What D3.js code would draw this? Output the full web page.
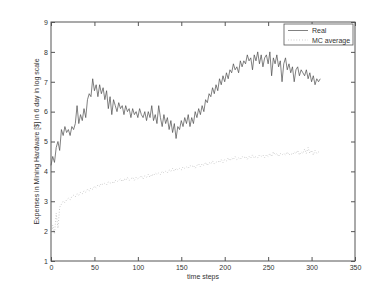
<!DOCTYPE html>
<html><head><meta charset="utf-8">
<script src="https://cdn.jsdelivr.net/npm/d3@7"></script>
<style>body{margin:0;background:#fff}svg{display:block;font-family:"Liberation Sans",Arial,sans-serif}</style>
</head><body><svg id="c" width="392" height="294"></svg>
<script>
const timeSteps = d3.range(0, 311, 2);
const realValues = [4.2,4.5,4.3,4.8,5.0,4.7,5.4,5.2,5.5,5.3,5.4,5.2,5.5,5.4,5.6,6.2,5.6,5.9,5.7,6.1,5.8,6.4,6.6,6.5,7.1,6.7,6.9,6.5,6.9,6.6,6.8,6.4,6.7,6.1,6.5,5.9,6.4,6.2,6.0,6.3,6.1,6.2,5.9,6.2,6.0,6.1,5.8,6.1,5.9,6.0,5.8,6.1,5.9,5.8,6.0,5.7,6.0,5.8,6.2,5.7,5.9,5.6,6.2,5.8,5.5,5.9,5.6,5.8,5.4,5.7,5.3,5.6,5.1,5.5,5.4,5.7,5.5,5.8,5.6,5.9,5.5,5.8,5.6,6.0,5.8,6.1,5.9,6.2,6.0,6.4,6.3,6.6,6.5,6.8,6.6,6.9,6.7,7.1,6.9,7.2,7.0,7.3,7.1,7.4,7.3,7.6,7.4,7.5,7.3,7.7,7.5,7.7,7.6,7.9,7.7,7.8,7.4,7.9,7.7,8.0,7.6,7.9,7.5,7.8,7.9,7.6,8.0,7.2,7.8,7.6,7.9,7.5,7.7,7.0,7.6,7.8,7.4,7.6,7.3,7.5,7.0,7.4,7.5,7.2,7.4,7.3,7.2,7.4,7.1,7.3,7.0,7.2,6.9,7.1,7.0,7.1];
const mcValues = [1.8,2.2,1.9,2.6,2.1,2.8,2.9,3.0,2.95,3.05,3.1,3.05,3.15,3.2,3.15,3.25,3.2,3.3,3.25,3.35,3.3,3.4,3.35,3.45,3.4,3.5,3.45,3.55,3.5,3.6,3.55,3.6,3.55,3.65,3.6,3.65,3.6,3.7,3.65,3.7,3.75,3.65,3.75,3.7,3.8,3.7,3.75,3.8,3.7,3.8,3.75,3.8,3.85,3.75,3.85,3.8,3.9,3.8,3.9,3.85,3.95,3.9,3.95,3.9,4.0,3.95,4.0,3.95,4.05,4.0,4.1,4.0,4.1,4.05,4.1,4.05,4.15,4.1,4.15,4.1,4.2,4.15,4.2,4.1,4.2,4.25,4.15,4.25,4.2,4.3,4.2,4.3,4.25,4.35,4.25,4.3,4.35,4.3,4.4,4.3,4.4,4.35,4.45,4.35,4.45,4.4,4.5,4.4,4.45,4.4,4.5,4.45,4.5,4.4,4.5,4.45,4.55,4.45,4.5,4.45,4.55,4.5,4.55,4.45,4.55,4.5,4.6,4.5,4.65,4.55,4.6,4.5,4.6,4.55,4.6,4.55,4.65,4.55,4.6,4.55,4.65,4.6,4.7,4.55,4.65,4.6,4.75,4.6,4.8,4.6,4.7,4.55,4.7,4.6,4.65,4.6];
const xTicks = [0,50,100,150,200,250,300,350];
const yTicks = [1,2,3,4,5,6,7,8,9];
const seriesNames = ["Real","MC average"];

const svg = d3.select("#c");
const m = {l:51, t:22, r:37, b:33};
const W = 392 - m.l - m.r, H = 294 - m.t - m.b;
const x = d3.scaleLinear().domain([0,350]).range([m.l, m.l+W]);
const y = d3.scaleLinear().domain([1,9]).range([m.t+H, m.t]);
const axisCol = "#555", fs = 7;
const realCol = "#4a4a4a", mcCol = "#b0b0b0";

svg.append("rect").attr("x",m.l).attr("y",m.t).attr("width",W).attr("height",H)
  .attr("fill","#fff").attr("stroke",axisCol).attr("stroke-width",1);

function styleAxis(g){
  g.select(".domain").remove();
  g.selectAll("line").attr("stroke",axisCol);
  g.selectAll("text").attr("fill","#333").style("font-size",fs+"px");
}
svg.append("g").attr("transform",`translate(0,${m.t+H})`)
  .call(d3.axisBottom(x).tickValues(xTicks).tickSize(-4).tickPadding(4)).call(styleAxis);
svg.append("g").attr("transform",`translate(0,${m.t})`)
  .call(d3.axisTop(x).tickValues(xTicks).tickSize(-4).tickFormat("")).call(styleAxis);
svg.append("g").attr("transform",`translate(${m.l},0)`)
  .call(d3.axisLeft(y).tickValues(yTicks).tickSize(-4).tickPadding(3)).call(styleAxis);
svg.append("g").attr("transform",`translate(${m.l+W},0)`)
  .call(d3.axisRight(y).tickValues(yTicks).tickSize(-4).tickFormat("")).call(styleAxis);

const line = d3.line().x((d,i)=>x(timeSteps[i])).y(d=>y(d));
svg.append("path").datum(mcValues).attr("d",line).attr("fill","none")
  .attr("stroke",mcCol).attr("stroke-width",0.8).attr("stroke-dasharray","0.8,2");
svg.append("path").datum(realValues).attr("d",line).attr("fill","none")
  .attr("stroke",realCol).attr("stroke-width",0.7);

// axis labels
svg.append("text").attr("x",x(175)).attr("y",279).attr("text-anchor","middle")
  .style("font-size",fs+"px").attr("fill","#333").text("time steps");
svg.append("text").attr("transform",`translate(39,${y(5)}) rotate(-90)`)
  .attr("text-anchor","middle").style("font-size",fs+"px").attr("fill","#333")
  .text("Expenses in Mining Hardware [$] in 6 day in log scale");

// legend
const lg = svg.append("g");
lg.append("rect").attr("x",284).attr("y",24).attr("width",69).attr("height",21)
  .attr("fill","#fff").attr("stroke",axisCol).attr("stroke-width",0.8);
lg.append("line").attr("x1",288).attr("x2",308).attr("y1",30.5).attr("y2",30.5)
  .attr("stroke",realCol).attr("stroke-width",0.7);
lg.append("line").attr("x1",288).attr("x2",308).attr("y1",40).attr("y2",40)
  .attr("stroke",mcCol).attr("stroke-width",0.8).attr("stroke-dasharray","0.8,2");
lg.append("text").attr("x",312).attr("y",33).style("font-size",fs+"px").attr("fill","#333").text(seriesNames[0]);
lg.append("text").attr("x",312).attr("y",42.5).style("font-size",fs+"px").attr("fill","#333").text(seriesNames[1]);
</script></body></html>
